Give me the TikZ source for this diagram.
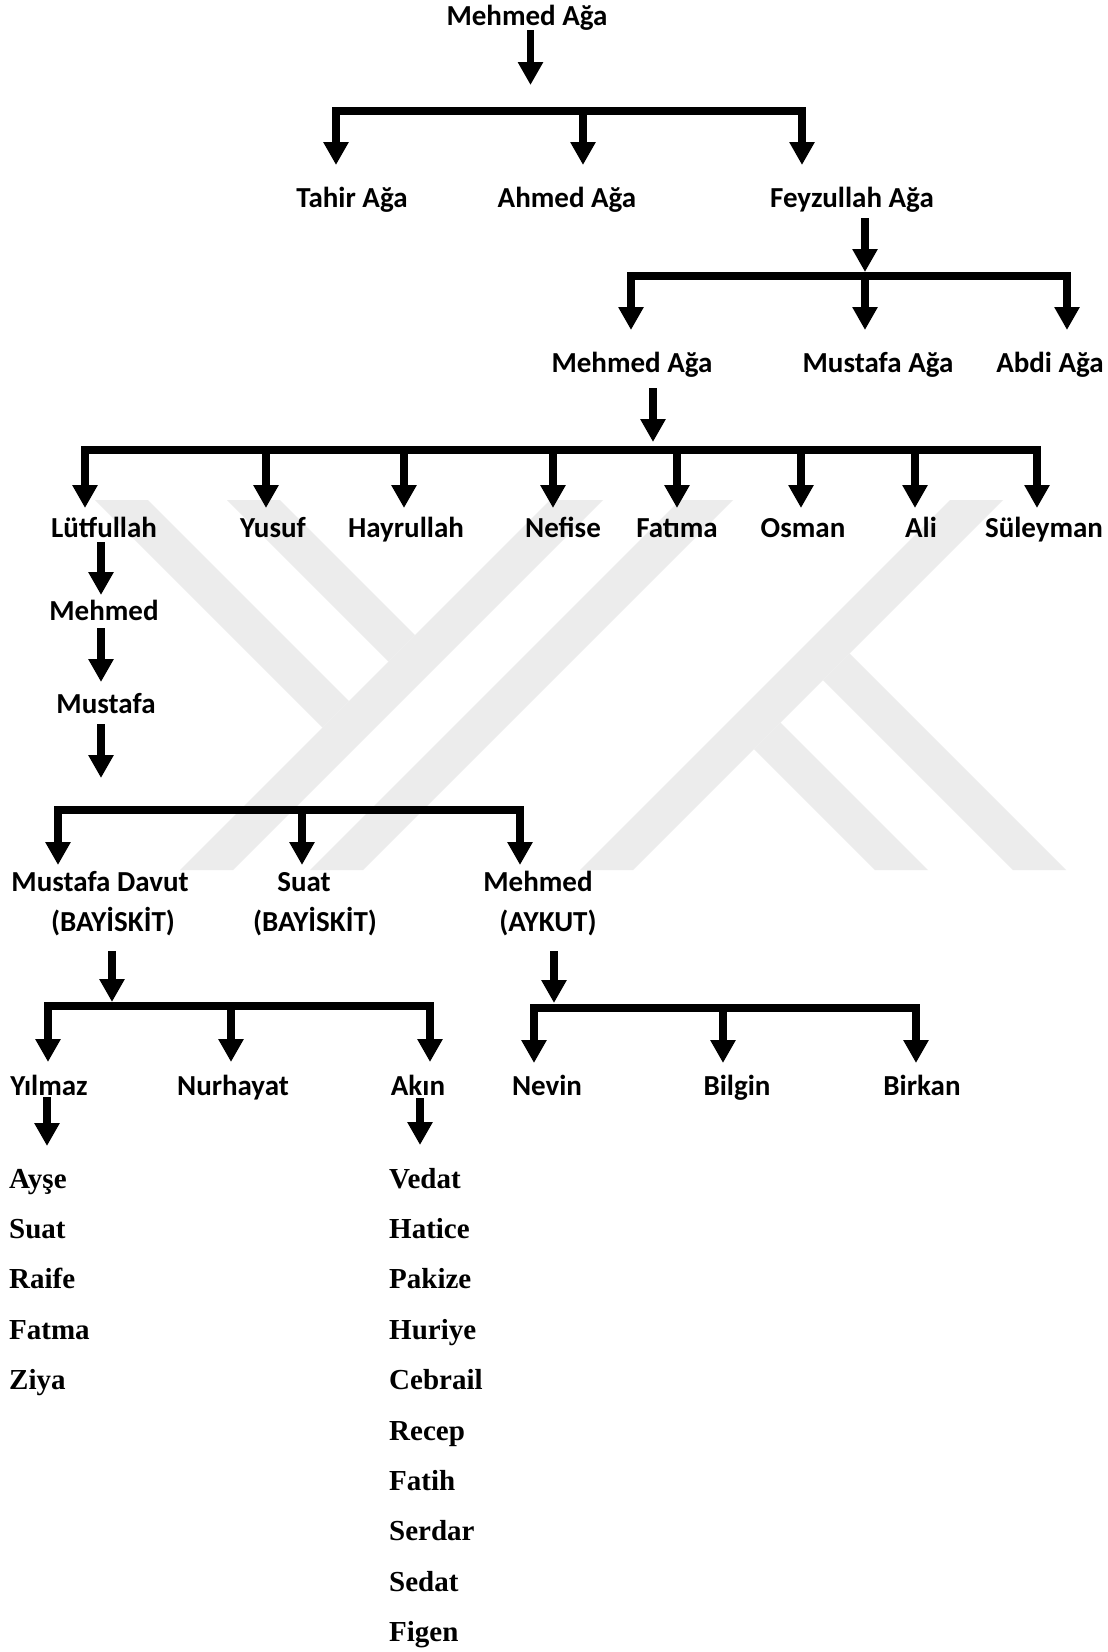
\documentclass[tikz,border=0pt]{standalone}
\usepackage{fontspec}
\usetikzlibrary{arrows.meta}
\newfontfamily\lblfamily{Carlito}
\newfontfamily\serfamily{Liberation Serif}
\newcommand\lblfont{\lblfamily\bfseries\fontsize{29}{34}\selectfont}
\newcommand\serfont{\serfamily\bfseries\fontsize{29}{34}\selectfont}
\definecolor{wmgray}{RGB}{236,236,236}
\tikzset{
  lbl/.style={font=\lblfont, inner sep=0pt, anchor=base},
  sl/.style={font=\serfont, inner sep=0pt, anchor=base west},
  arr/.style={line width=7.5pt, -{Triangle[width=24pt,length=23pt]}},
  barline/.style={line width=7.5pt, line cap=rect},
  wm/.style={fill=wmgray, draw=none}
}
\begin{document}
\begin{tikzpicture}[x=1pt,y=-1pt]
\useasboundingbox (0,0) rectangle (1108,1652);
\fill[white] (0,0) rectangle (1108,1652);
% watermark
\fill[wm] (95,500) -- (148,500) -- (349,701) -- (322.5,727.5) -- cycle;
\fill[wm] (227,500) -- (280,500) -- (415,635) -- (388.5,661.5) -- cycle;
\fill[wm] (550,500) -- (603,500) -- (233,870) -- (180,870) -- cycle;
\fill[wm] (680,500) -- (733,500) -- (363,870) -- (310,870) -- cycle;
\fill[wm] (950,500) -- (1003,500) -- (633,870) -- (580,870) -- cycle;
\fill[wm] (849.5,653.5) -- (1066,870) -- (1013,870) -- (823,680) -- cycle;
\fill[wm] (780.5,722.5) -- (928,870) -- (875,870) -- (754,749) -- cycle;

% ---- level 0
\node[lbl] (root) at (527,25) {Mehmed Ağa};
\coordinate (r-s) at (530.5,30);
\coordinate (r-t) at (530.5,85);
\draw[arr] (r-s) -- (r-t);
\coordinate (b1l) at (336,111);
\coordinate (b1m) at (583,111);
\coordinate (b1r) at (802,111);
\draw[barline] (b1l) -- (b1r);
\coordinate (t-tahir) at (336,165);
\coordinate (t-ahmed) at (583,165);
\coordinate (t-feyz) at (802,165);
\draw[arr] (b1l) -- (t-tahir);
\draw[arr] (b1m) -- (t-ahmed);
\draw[arr] (b1r) -- (t-feyz);
\node[lbl] (tahir) at (352,207) {Tahir Ağa};
\node[lbl] (ahmed) at (567,207) {Ahmed Ağa};
\node[lbl] (feyz) at (852,207) {Feyzullah Ağa};

% ---- level 2
\coordinate (f-s) at (865,218);
\coordinate (f-t) at (865,272);
\draw[arr] (f-s) -- (f-t);
\coordinate (b2l) at (631,276);
\coordinate (b2m) at (865,276);
\coordinate (b2r) at (1067,276);
\draw[barline] (b2l) -- (b2r);
\coordinate (t-mehmed2) at (631,330);
\coordinate (t-mustafa2) at (865,330);
\coordinate (t-abdi) at (1067,330);
\draw[arr] (b2l) -- (t-mehmed2);
\draw[arr] (b2m) -- (t-mustafa2);
\draw[arr] (b2r) -- (t-abdi);
\node[lbl] (mehmed2) at (632,372) {Mehmed Ağa};
\node[lbl] (mustafa2) at (878,372) {Mustafa Ağa};
\node[lbl] (abdi) at (1050,372) {Abdi Ağa};

% ---- level 3
\coordinate (m2-s) at (653,388);
\coordinate (m2-t) at (653,442);
\draw[arr] (m2-s) -- (m2-t);
\coordinate (b3a) at (85,450);
\coordinate (b3b) at (266,450);
\coordinate (b3c) at (404,450);
\coordinate (b3d) at (553,450);
\coordinate (b3e) at (677,450);
\coordinate (b3f) at (801,450);
\coordinate (b3g) at (915,450);
\coordinate (b3h) at (1037,450);
\draw[barline] (b3a) -- (b3h);
\foreach \c in {a,b,c,d,e,f,g,h}{
  \draw[arr] (b3\c) -- ++(0,58);
}
\node[lbl] (lutf) at (104,537) {Lütfullah};
\node[lbl] (yusuf) at (273,537) {Yusuf};
\node[lbl] (hayr) at (406,537) {Hayrullah};
\node[lbl] (nefise) at (563,537) {Nefise};
\node[lbl] (fatima) at (677,537) {Fatıma};
\node[lbl] (osman) at (803,537) {Osman};
\node[lbl] (ali) at (921,537) {Ali};
\node[lbl] (suley) at (1044,537) {Süleyman};

% ---- chain
\coordinate (c1s) at (101,542);
\coordinate (c1t) at (101,595);
\draw[arr] (c1s) -- (c1t);
\node[lbl] (mehmed3) at (104,620) {Mehmed};
\coordinate (c2s) at (101,628);
\coordinate (c2t) at (101,682);
\draw[arr] (c2s) -- (c2t);
\node[lbl] (mustafa3) at (106,713) {Mustafa};
\coordinate (c3s) at (101,724);
\coordinate (c3t) at (101,778);
\draw[arr] (c3s) -- (c3t);

% ---- level 4
\coordinate (b4l) at (58,810);
\coordinate (b4m) at (302,810);
\coordinate (b4r) at (520,810);
\draw[barline] (b4l) -- (b4r);
\coordinate (t-md) at (58,865);
\coordinate (t-suat) at (302,865);
\coordinate (t-mehmed4) at (520,865);
\draw[arr] (b4l) -- (t-md);
\draw[arr] (b4m) -- (t-suat);
\draw[arr] (b4r) -- (t-mehmed4);
\node[lbl] (md) at (100,891) {Mustafa Davut};
\node[lbl] (md2) at (113,931) {(BAYİSKİT)};
\node[lbl] (suat) at (304,891) {Suat};
\node[lbl] (suat2) at (315,931) {(BAYİSKİT)};
\node[lbl] (mehmed4) at (538,891) {Mehmed};
\node[lbl] (mehmed42) at (548,931) {(AYKUT)};

% ---- level 5
\coordinate (md-s) at (112,951);
\coordinate (md-t) at (112,1002);
\draw[arr] (md-s) -- (md-t);
\coordinate (b5l) at (48,1006);
\coordinate (b5m) at (231,1006);
\coordinate (b5r) at (430,1006);
\draw[barline] (b5l) -- (b5r);
\coordinate (t-yil) at (48,1062);
\coordinate (t-nur) at (231,1062);
\coordinate (t-akin) at (430,1062);
\draw[arr] (b5l) -- (t-yil);
\draw[arr] (b5m) -- (t-nur);
\draw[arr] (b5r) -- (t-akin);

\coordinate (ay-s) at (554,951);
\coordinate (ay-t) at (554,1003);
\draw[arr] (ay-s) -- (ay-t);
\coordinate (b6l) at (534,1008);
\coordinate (b6m) at (723,1008);
\coordinate (b6r) at (916,1008);
\draw[barline] (b6l) -- (b6r);
\coordinate (t-nev) at (534,1063);
\coordinate (t-bil) at (723,1063);
\coordinate (t-bir) at (916,1063);
\draw[arr] (b6l) -- (t-nev);
\draw[arr] (b6m) -- (t-bil);
\draw[arr] (b6r) -- (t-bir);

\node[lbl] (yilmaz) at (49,1095) {Yılmaz};
\node[lbl] (nurhayat) at (233,1095) {Nurhayat};
\node[lbl] (akin) at (418,1095) {Akın};
\node[lbl] (nevin) at (547,1095) {Nevin};
\node[lbl] (bilgin) at (737,1095) {Bilgin};
\node[lbl] (birkan) at (922,1095) {Birkan};

% ---- level 6
\coordinate (y-s) at (47,1097);
\coordinate (y-t) at (47,1146);
\draw[arr] (y-s) -- (y-t);
\coordinate (a-s) at (420,1098);
\coordinate (a-t) at (420,1145);
\draw[arr] (a-s) -- (a-t);

\node[sl] (l1) at (9,1188) {Ayşe};
\node[sl] (l2) at (9,1238.4) {Suat};
\node[sl] (l3) at (9,1288.8) {Raife};
\node[sl] (l4) at (9,1339.2) {Fatma};
\node[sl] (l5) at (9,1389.6) {Ziya};

\node[sl] (r1) at (389,1188) {Vedat};
\node[sl] (r2) at (389,1238.4) {Hatice};
\node[sl] (r3) at (389,1288.8) {Pakize};
\node[sl] (r4) at (389,1339.2) {Huriye};
\node[sl] (r5) at (389,1389.6) {Cebrail};
\node[sl] (r6) at (389,1440) {Recep};
\node[sl] (r7) at (389,1490.4) {Fatih};
\node[sl] (r8) at (389,1540.8) {Serdar};
\node[sl] (r9) at (389,1591.2) {Sedat};
\node[sl] (r10) at (389,1641.6) {Figen};
\end{tikzpicture}
\end{document}
